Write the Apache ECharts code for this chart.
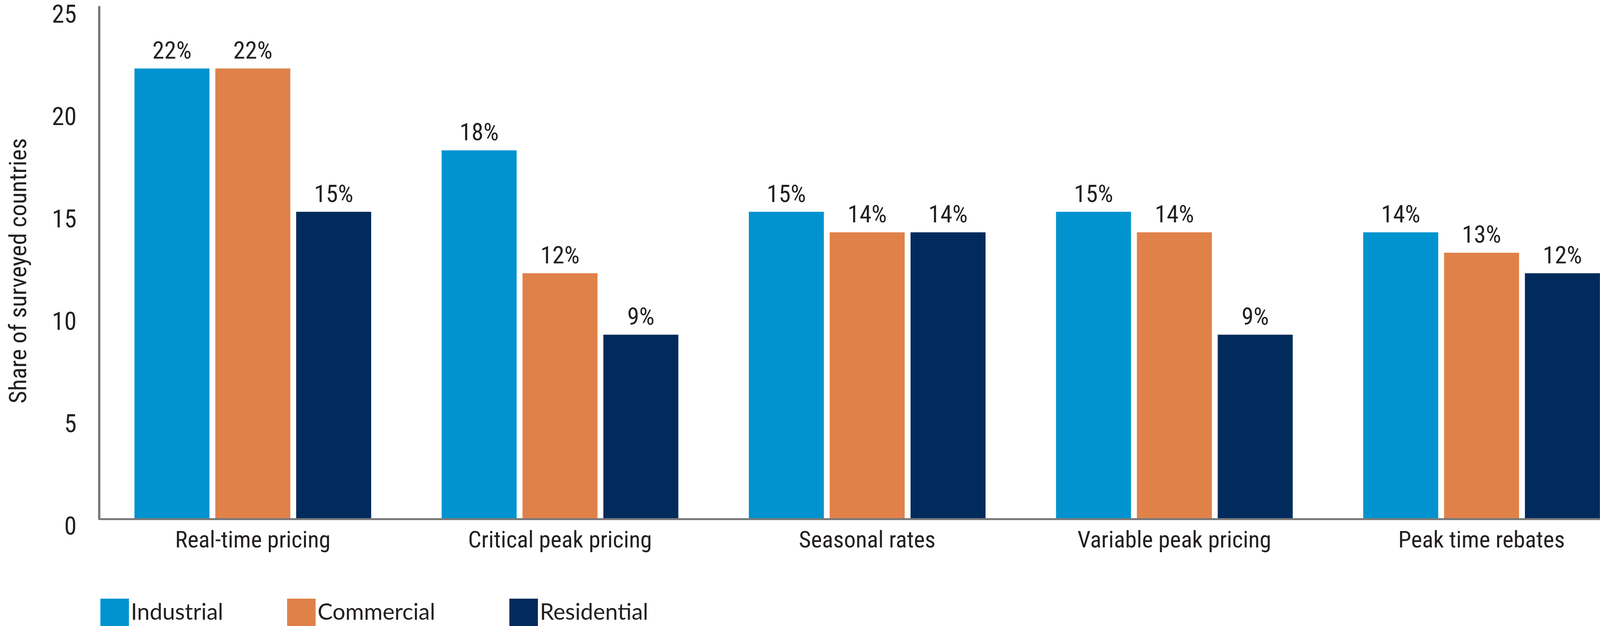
<!DOCTYPE html>
<html>
<head>
<meta charset="utf-8">
<script src="https://cdn.jsdelivr.net/npm/echarts@6/dist/echarts.min.js"></script>
<style>
html,body{margin:0;padding:0;background:#fff;}
#chart{width:4190px;height:1602px;}
</style>
</head>
<body>
<div id="chart"></div>
<script>
var categories = ['Real-time pricing', 'Critical peak pricing', 'Seasonal rates', 'Variable peak pricing', 'Peak time rebates'];
var seriesNames = ['Industrial', 'Commercial', 'Residential'];
var industrial = [22, 18, 15, 15, 14];
var commercial = [22, 12, 14, 14, 13];
var residential = [15, 9, 14, 9, 12];
var yTicks = [0, 5, 10, 15, 20, 25];

var colors = ['#0093CF', '#E0814A', '#012B5C'];
var condFamily = 'Roboto, sans-serif';
var condStyle = 'condensed';
var textColor = '#231F20';

var chart = echarts.init(document.getElementById('chart'));

function mkSeries(name, data, color) {
  return {
    name: name,
    type: 'bar',
    data: data,
    barWidth: 192,
    barGap: '7.8%',
    itemStyle: { color: color },
    label: {
      show: true,
      position: 'top',
      distance: 10,
      formatter: function (p) { return Math.round(p.value) + '%'; },
      fontFamily: condFamily,
      fontStyle: condStyle,
      fontSize: 62,
      color: textColor
    }
  };
}

function mkLegend(name, left) {
  return {
    data: [name],
    left: left,
    top: 1532,
    orient: 'horizontal',
    itemWidth: 73,
    itemHeight: 70,
    itemGap: 0,
    itemTextGap: 27,
    padding: 0,
    icon: 'rect',
    textStyle: { fontFamily: 'Lato, sans-serif', fontSize: 58, color: textColor }
  };
}

chart.setOption({
  animation: false,
  backgroundColor: '#ffffff',
  color: colors,
  grid: { left: 254, right: 4, top: 18, bottom: 274, containLabel: false },
  legend: [
    mkLegend(seriesNames[0], 257),
    mkLegend(seriesNames[1], 735),
    mkLegend(seriesNames[2], 1304)
  ],
  xAxis: {
    type: 'category',
    data: categories,
    boundaryGap: true,
    axisTick: { show: false },
    axisLine: { show: true, lineStyle: { color: '#7A7A7A', width: 5 } },
    axisLabel: {
      interval: 0,
      margin: 28,
      fontFamily: condFamily,
      fontStyle: condStyle,
      fontSize: 60,
      color: textColor
    },
    z: 5
  },
  yAxis: {
    type: 'value',
    min: yTicks[0],
    max: yTicks[yTicks.length - 1],
    interval: yTicks[1] - yTicks[0],
    name: 'Share of surveyed countries',
    nameLocation: 'middle',
    nameGap: 172,
    nameTextStyle: {
      fontFamily: condFamily,
      fontStyle: condStyle,
      fontSize: 62,
      color: textColor,
      padding: [0, 40, 0, 0]
    },
    axisLine: { show: true, lineStyle: { color: '#7A7A7A', width: 6 } },
    axisTick: { show: false },
    splitLine: { show: false },
    axisLabel: {
      margin: 58,
      fontFamily: condFamily,
      fontStyle: condStyle,
      fontSize: 64,
      color: textColor,
      verticalAlign: 'top',
      lineHeight: 48
    }
  },
  series: [
    mkSeries(seriesNames[0], industrial, colors[0]),
    mkSeries(seriesNames[1], commercial, colors[1]),
    mkSeries(seriesNames[2], residential, colors[2])
  ]
});
</script>
</body>
</html>
